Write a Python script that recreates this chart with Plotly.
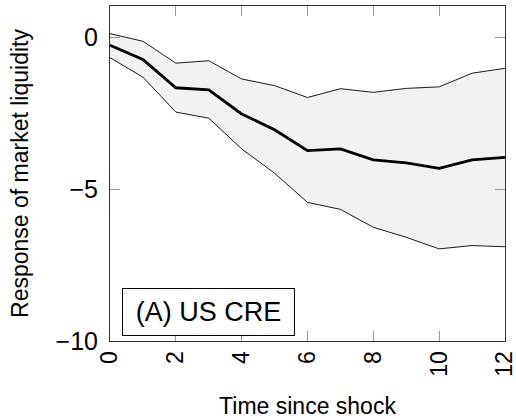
import plotly.graph_objects as go

horizon = list(range(13))
mean_resp = [-0.27, -0.74, -1.67, -1.74, -2.53, -3.05, -3.74, -3.68, -4.04, -4.14, -4.32, -4.04, -3.96]
upper_band = [0.11, -0.14, -0.86, -0.78, -1.38, -1.60, -1.99, -1.70, -1.82, -1.69, -1.64, -1.19, -1.03]
lower_band = [-0.68, -1.32, -2.47, -2.67, -3.68, -4.48, -5.44, -5.67, -6.26, -6.59, -6.97, -6.86, -6.90]
x_ticks = [0, 2, 4, 6, 8, 10, 12]
y_ticks = [0, -5, -10]
y_tick_text = ["0", "\u22125", "\u221210"]
panel_label = "(A) US CRE"

FONT = "Liberation Sans"

fig = go.Figure()
fig.add_trace(go.Scatter(x=horizon, y=lower_band, mode="lines",
                         line=dict(color="black", width=0.9), showlegend=False))
fig.add_trace(go.Scatter(x=horizon, y=upper_band, mode="lines", fill="tonexty",
                         fillcolor="#f2f2f2",
                         line=dict(color="black", width=0.9), showlegend=False))
fig.add_trace(go.Scatter(x=horizon, y=mean_resp, mode="lines",
                         line=dict(color="black", width=2.8), showlegend=False))

fig.add_annotation(x=0.37, y=-9.83, xref="x", yref="y", xanchor="left", yanchor="bottom",
                   text=panel_label, showarrow=False,
                   font=dict(family=FONT, size=27, color="black"),
                   bordercolor="black", borderwidth=1, borderpad=0,
                   bgcolor="white", width=171, height=46, align="center", valign="middle")

fig.update_layout(
    width=516, height=419,
    margin=dict(l=110, r=11, t=6, b=78, autoexpand=False),
    paper_bgcolor="white", plot_bgcolor="white",
    font=dict(family=FONT, color="black"),
    xaxis=dict(range=[0, 12], tickvals=x_ticks, tickangle=-90,
               ticks="inside", ticklen=10, tickcolor="#999999", tickwidth=1,
               showline=True, linecolor="#333333", linewidth=1, mirror="allticks",
               showgrid=False, zeroline=False, ticklabeloverflow="allow",
               tickfont=dict(family=FONT, size=23),
               title=dict(text="Time since shock", font=dict(family=FONT, size=23), standoff=22),
               automargin=False),
    yaxis=dict(range=[-10, 1.02], tickvals=y_ticks, ticktext=y_tick_text,
               ticks="inside", ticklen=10, tickcolor="#999999", tickwidth=1,
               showline=True, linecolor="#333333", linewidth=1, mirror="allticks",
               showgrid=False, zeroline=False, ticklabeloverflow="allow",
               tickfont=dict(family=FONT, size=25), ticklabelstandoff=6,
               title=dict(text="Response of market liquidity", font=dict(family=FONT, size=23), standoff=20),
               automargin=False),
)

fig.write_html("out.html")
